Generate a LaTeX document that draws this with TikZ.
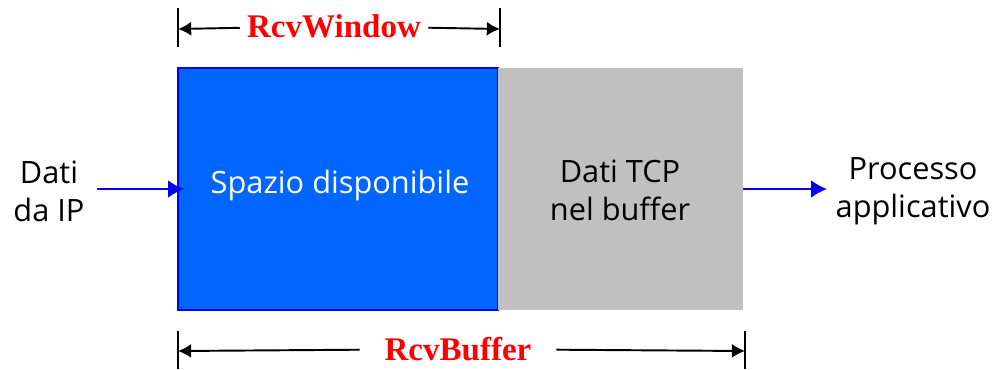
\documentclass[tikz,border=0pt]{standalone}
\usepackage{fontspec}
\setmainfont{Open Sans}
\newfontfamily\labelfont{Liberation Serif}
\usepackage{tikz}
\usetikzlibrary{arrows.meta}
\usepackage{xcolor}
\definecolor{freeblue}{HTML}{0066FF}
\definecolor{bufgray}{HTML}{C0C0C0}
\begin{document}
\begin{tikzpicture}[x=0.02cm,y=-0.02cm]
    \tikzstyle{e} = [draw, blue, line width=1.1pt, -{Latex[length=9pt,width=10pt]}]
    \tikzstyle{dim} = [draw, black, line width=1.1pt, -{Latex[length=7.5pt,width=8pt]}]
    \tikzstyle{tick} = [draw, black, line width=1.1pt]
    \tikzstyle{txt} = [font=\fontsize{17.5}{21.6}\selectfont, align=center]
    \tikzstyle{lbl} = [font=\labelfont\bfseries\fontsize{18.8}{22}\selectfont, text=red, inner ysep=2pt]
    \useasboundingbox (0,0) rectangle (996,369);
    % buffer
    \filldraw[fill=freeblue, draw=blue, thick] (178,68) rectangle (498,310);
    \fill[bufgray] (498,68) rectangle (743,310);
    \node[txt, text=white] (free) at (340,186) {Spazio disponibile};
    \node[txt] (data) at (620,190) {Dati TCP\\nel buffer};
    % in / out
    \node[txt] (ip) at (49,191) {Dati\\da IP};
    \node[txt] (app) at (913,191) {Processo\\applicativo};
    \coordinate (inA) at (97,189);
    \coordinate (inB) at (184,189);
    \coordinate (outA) at (743,189);
    \coordinate (outB) at (827,189);
    \draw [e] (inA) -- (inB);
    \draw [e] (outA) -- (outB);
    % RcvWindow
    \node[lbl, inner xsep=4pt] (win) at (334,26) {RcvWindow};
    \coordinate (winL) at (178,29);
    \coordinate (winR) at (500,29);
    \draw [tick] (178,8) -- (178,47);
    \draw [tick] (500,8) -- (500,47);
    \draw [dim] (win) -- (winL);
    \draw [dim] (win) -- (winR);
    % RcvBuffer
    \node[lbl, inner xsep=14pt] (buf) at (458,349) {RcvBuffer};
    \coordinate (bufL) at (178,351);
    \coordinate (bufR) at (745,351);
    \draw [tick] (178,331) -- (178,369);
    \draw [tick] (745,331) -- (745,369);
    \draw [dim] (buf) -- (bufL);
    \draw [dim] (buf) -- (bufR);
\end{tikzpicture}
\end{document}
